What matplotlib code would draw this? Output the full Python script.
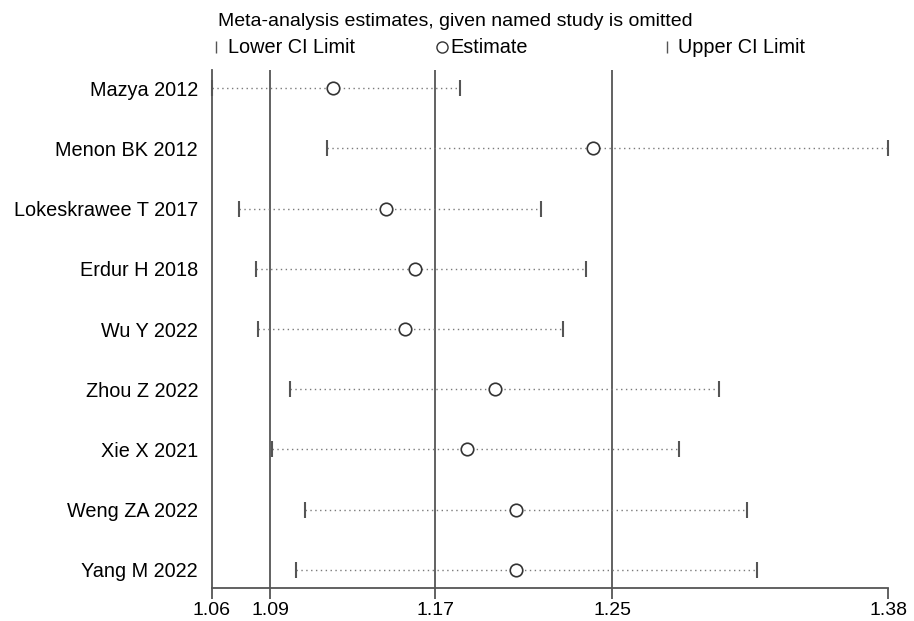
import matplotlib.pyplot as plt
from matplotlib.lines import Line2D

plt.rcParams['font.family'] = ['Liberation Sans', 'DejaVu Sans']

# studies omitted, one per row (top to bottom)
studies = ["Mazya 2012", "Menon BK 2012", "Lokeskrawee T 2017", "Erdur H 2018",
           "Wu Y 2022", "Zhou Z 2022", "Xie X 2021", "Weng ZA 2022", "Yang M 2022"]
estimate = [1.1168, 1.2403, 1.1420, 1.1558, 1.1513, 1.1939, 1.1807, 1.2038, 1.2039]
lower_ci = [1.0595, 1.1141, 1.0725, 1.0803, 1.0812, 1.0964, 1.0881, 1.1038, 1.0996]
upper_ci = [1.1774, 1.3805, 1.2159, 1.2370, 1.2262, 1.3003, 1.2814, 1.3134, 1.3183]

# overall (all studies) estimate and CI
overall = [1.0872, 1.1655, 1.2496]

rows = list(range(1, len(studies) + 1))
x_min = min(lower_ci)
x_max = max(upper_ci)
tick_vals = [x_min] + overall + [x_max]

fig = plt.figure(figsize=(9.14, 6.21), dpi=100)
ax = fig.add_axes([0.2319, 0.0531, 0.7397, 0.8342])

gray = '#555555'

# overall reference lines
for v in overall:
    ax.axvline(v, color=gray, lw=1.3, zorder=1)

for r, lo, est, hi in zip(rows, lower_ci, estimate, upper_ci):
    ax.plot([lo, hi], [r, r], color='#7a7a7a', lw=1.0, ls=(0, (1, 2.5)), zorder=2)
    ax.plot([lo], [r], marker='|', ms=12, mew=1.5, color=gray, zorder=3, clip_on=False)
    ax.plot([hi], [r], marker='|', ms=12, mew=1.5, color=gray, zorder=3, clip_on=False)
    ax.plot([est], [r], marker='o', ms=9, mfc='white', mec='#333333', mew=1.2, zorder=4)

ax.set_xlim(x_min, x_max)
ax.set_ylim(len(studies) + 0.3, 0.7)

ax.set_xticks(tick_vals)
ax.set_xticklabels(["%.2f" % v for v in tick_vals], fontsize=14)
ax.tick_params(axis='x', length=8, width=1.3, color=gray, pad=2)

ax.set_yticks(rows)
ax.set_yticklabels(studies, fontsize=14.3)
ax.tick_params(axis='y', length=0, pad=10)

for s in ['top', 'right']:
    ax.spines[s].set_visible(False)
ax.spines['left'].set_color(gray)
ax.spines['left'].set_linewidth(1.3)
ax.spines['bottom'].set_color(gray)
ax.spines['bottom'].set_linewidth(1.3)

# title and legend row
fig.text(0.2385, 0.9646, "Meta-analysis estimates, given named study is omitted",
         fontsize=14, va='center', ha='left')
leg_y = 0.9243
fig.add_artist(Line2D([0.2363], [leg_y], marker='|', ms=9, mew=1.0, color=gray,
                      transform=fig.transFigure))
fig.text(0.2495, leg_y, "Lower CI Limit", fontsize=14.3, va='center', ha='left')
fig.add_artist(Line2D([0.4836], [leg_y], marker='o', ms=8, mfc='white', mec='#333333',
                      mew=1.0, transform=fig.transFigure))
fig.text(0.4923, leg_y, "Estimate", fontsize=14.3, va='center', ha='left')
fig.add_artist(Line2D([0.7298], [leg_y], marker='|', ms=9, mew=1.0, color=gray,
                      transform=fig.transFigure))
fig.text(0.7418, leg_y, "Upper CI Limit", fontsize=14.3, va='center', ha='left')

fig.savefig("out.png", dpi=100)
